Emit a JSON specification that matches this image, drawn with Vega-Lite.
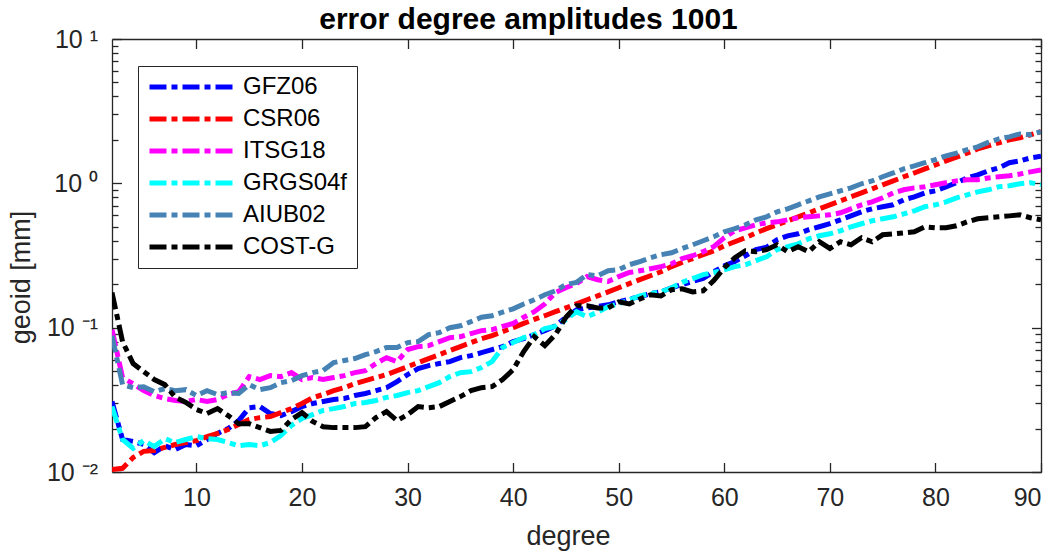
{
"$schema":"https://vega.github.io/schema/vega-lite/v6.json",
"width":929,"height":433,
"autosize":{"type":"none"},
"padding":{"left":112,"top":39,"right":15,"bottom":84},
"background":"white",
"title":{"text":"error degree amplitudes 1001","font":"Liberation Sans","fontSize":30,"fontWeight":"bold","color":"#000000","anchor":"middle","frame":"group","baseline":"bottom","offset":8,"dx":-48,"dy":46},
"config":{"view":{"stroke":null},"font":"Liberation Sans",
"axis":{"grid":false,"domainColor":"#262626","domainWidth":1.3,"tickColor":"#262626","tickWidth":1.3,"labelColor":"#262626","titleColor":"#262626","labelFont":"Liberation Sans","titleFont":"Liberation Sans","labelFontSize":25,"titleFontSize":27,"titleFontWeight":"normal"}},
"data":{"values":[
{"d":2,"GFZ06":0.0308,"CSR06":0.0104,"ITSG18":0.0969,"GRGS04f":0.0284,"AIUB02":0.0880,"COST-G":0.175},
{"d":3,"GFZ06":0.0168,"CSR06":0.0106,"ITSG18":0.0451,"GRGS04f":0.0168,"AIUB02":0.0403,"COST-G":0.0800},
{"d":4,"GFZ06":0.0163,"CSR06":0.0126,"ITSG18":0.0409,"GRGS04f":0.0146,"AIUB02":0.0384,"COST-G":0.0564},
{"d":5,"GFZ06":0.0155,"CSR06":0.0139,"ITSG18":0.0366,"GRGS04f":0.0165,"AIUB02":0.0390,"COST-G":0.0496},
{"d":6,"GFZ06":0.0136,"CSR06":0.0141,"ITSG18":0.0339,"GRGS04f":0.0150,"AIUB02":0.0360,"COST-G":0.0437},
{"d":7,"GFZ06":0.0152,"CSR06":0.0148,"ITSG18":0.0323,"GRGS04f":0.0170,"AIUB02":0.0378,"COST-G":0.0403},
{"d":8,"GFZ06":0.0143,"CSR06":0.0155,"ITSG18":0.0313,"GRGS04f":0.0160,"AIUB02":0.0366,"COST-G":0.0329},
{"d":9,"GFZ06":0.0155,"CSR06":0.0160,"ITSG18":0.0308,"GRGS04f":0.0168,"AIUB02":0.0372,"COST-G":0.0303},
{"d":10,"GFZ06":0.0152,"CSR06":0.0165,"ITSG18":0.0318,"GRGS04f":0.0176,"AIUB02":0.0339,"COST-G":0.0271},
{"d":11,"GFZ06":0.0168,"CSR06":0.0176,"ITSG18":0.0308,"GRGS04f":0.0170,"AIUB02":0.0366,"COST-G":0.0254},
{"d":12,"GFZ06":0.0185,"CSR06":0.0185,"ITSG18":0.0318,"GRGS04f":0.0168,"AIUB02":0.0344,"COST-G":0.0275},
{"d":13,"GFZ06":0.0200,"CSR06":0.0197,"ITSG18":0.0344,"GRGS04f":0.0160,"AIUB02":0.0355,"COST-G":0.0246},
{"d":14,"GFZ06":0.0227,"CSR06":0.0213,"ITSG18":0.0360,"GRGS04f":0.0152,"AIUB02":0.0350,"COST-G":0.0216},
{"d":15,"GFZ06":0.0279,"CSR06":0.0231,"ITSG18":0.0458,"GRGS04f":0.0155,"AIUB02":0.0403,"COST-G":0.0216},
{"d":16,"GFZ06":0.0284,"CSR06":0.0238,"ITSG18":0.0437,"GRGS04f":0.0152,"AIUB02":0.0372,"COST-G":0.0203},
{"d":17,"GFZ06":0.0254,"CSR06":0.0242,"ITSG18":0.0465,"GRGS04f":0.0160,"AIUB02":0.0384,"COST-G":0.0191},
{"d":18,"GFZ06":0.0246,"CSR06":0.0258,"ITSG18":0.0458,"GRGS04f":0.0179,"AIUB02":0.0416,"COST-G":0.0194},
{"d":19,"GFZ06":0.0262,"CSR06":0.0275,"ITSG18":0.0488,"GRGS04f":0.0210,"AIUB02":0.0430,"COST-G":0.0231},
{"d":20,"GFZ06":0.0284,"CSR06":0.0298,"ITSG18":0.0437,"GRGS04f":0.0235,"AIUB02":0.0465,"COST-G":0.0258},
{"d":21,"GFZ06":0.0298,"CSR06":0.0327,"ITSG18":0.0451,"GRGS04f":0.0250,"AIUB02":0.0488,"COST-G":0.0224},
{"d":22,"GFZ06":0.0308,"CSR06":0.0344,"ITSG18":0.0437,"GRGS04f":0.0267,"AIUB02":0.0504,"COST-G":0.0206},
{"d":23,"GFZ06":0.0318,"CSR06":0.0366,"ITSG18":0.0451,"GRGS04f":0.0275,"AIUB02":0.0573,"COST-G":0.0203},
{"d":24,"GFZ06":0.0323,"CSR06":0.0384,"ITSG18":0.0465,"GRGS04f":0.0284,"AIUB02":0.0592,"COST-G":0.0203},
{"d":25,"GFZ06":0.0339,"CSR06":0.0409,"ITSG18":0.0488,"GRGS04f":0.0298,"AIUB02":0.0611,"COST-G":0.0203},
{"d":26,"GFZ06":0.0350,"CSR06":0.0430,"ITSG18":0.0504,"GRGS04f":0.0303,"AIUB02":0.0650,"COST-G":0.0206},
{"d":27,"GFZ06":0.0366,"CSR06":0.0451,"ITSG18":0.0564,"GRGS04f":0.0313,"AIUB02":0.0683,"COST-G":0.0238},
{"d":28,"GFZ06":0.0384,"CSR06":0.0473,"ITSG18":0.0620,"GRGS04f":0.0329,"AIUB02":0.0728,"COST-G":0.0262},
{"d":29,"GFZ06":0.0423,"CSR06":0.0504,"ITSG18":0.0582,"GRGS04f":0.0339,"AIUB02":0.0728,"COST-G":0.0227},
{"d":30,"GFZ06":0.0473,"CSR06":0.0537,"ITSG18":0.0705,"GRGS04f":0.0355,"AIUB02":0.0788,"COST-G":0.0250},
{"d":31,"GFZ06":0.0520,"CSR06":0.0573,"ITSG18":0.0739,"GRGS04f":0.0366,"AIUB02":0.0800,"COST-G":0.0284},
{"d":32,"GFZ06":0.0546,"CSR06":0.0611,"ITSG18":0.0751,"GRGS04f":0.0390,"AIUB02":0.0895,"COST-G":0.0279},
{"d":33,"GFZ06":0.0564,"CSR06":0.0650,"ITSG18":0.0800,"GRGS04f":0.0416,"AIUB02":0.0924,"COST-G":0.0284},
{"d":34,"GFZ06":0.0582,"CSR06":0.0694,"ITSG18":0.0853,"GRGS04f":0.0458,"AIUB02":0.100,"COST-G":0.0308},
{"d":35,"GFZ06":0.0620,"CSR06":0.0739,"ITSG18":0.0866,"GRGS04f":0.0488,"AIUB02":0.103,"COST-G":0.0333},
{"d":36,"GFZ06":0.0640,"CSR06":0.0788,"ITSG18":0.0910,"GRGS04f":0.0496,"AIUB02":0.110,"COST-G":0.0366},
{"d":37,"GFZ06":0.0671,"CSR06":0.0839,"ITSG18":0.0954,"GRGS04f":0.0529,"AIUB02":0.118,"COST-G":0.0384},
{"d":38,"GFZ06":0.0705,"CSR06":0.0881,"ITSG18":0.0969,"GRGS04f":0.0582,"AIUB02":0.121,"COST-G":0.0390},
{"d":39,"GFZ06":0.0739,"CSR06":0.0939,"ITSG18":0.102,"GRGS04f":0.0728,"AIUB02":0.128,"COST-G":0.0437},
{"d":40,"GFZ06":0.0800,"CSR06":0.100,"ITSG18":0.107,"GRGS04f":0.0788,"AIUB02":0.135,"COST-G":0.0512},
{"d":41,"GFZ06":0.0839,"CSR06":0.107,"ITSG18":0.118,"GRGS04f":0.0853,"AIUB02":0.146,"COST-G":0.0683},
{"d":42,"GFZ06":0.0895,"CSR06":0.114,"ITSG18":0.129,"GRGS04f":0.0895,"AIUB02":0.156,"COST-G":0.0866},
{"d":43,"GFZ06":0.0954,"CSR06":0.121,"ITSG18":0.146,"GRGS04f":0.0984,"AIUB02":0.169,"COST-G":0.0751},
{"d":44,"GFZ06":0.103,"CSR06":0.129,"ITSG18":0.175,"GRGS04f":0.102,"AIUB02":0.180,"COST-G":0.0895},
{"d":45,"GFZ06":0.118,"CSR06":0.137,"ITSG18":0.189,"GRGS04f":0.114,"AIUB02":0.199,"COST-G":0.118},
{"d":46,"GFZ06":0.133,"CSR06":0.146,"ITSG18":0.202,"GRGS04f":0.129,"AIUB02":0.206,"COST-G":0.142},
{"d":47,"GFZ06":0.137,"CSR06":0.156,"ITSG18":0.226,"GRGS04f":0.119,"AIUB02":0.233,"COST-G":0.142},
{"d":48,"GFZ06":0.140,"CSR06":0.166,"ITSG18":0.215,"GRGS04f":0.128,"AIUB02":0.229,"COST-G":0.137},
{"d":49,"GFZ06":0.144,"CSR06":0.177,"ITSG18":0.209,"GRGS04f":0.140,"AIUB02":0.248,"COST-G":0.137},
{"d":50,"GFZ06":0.151,"CSR06":0.189,"ITSG18":0.226,"GRGS04f":0.146,"AIUB02":0.252,"COST-G":0.151},
{"d":51,"GFZ06":0.158,"CSR06":0.202,"ITSG18":0.241,"GRGS04f":0.156,"AIUB02":0.273,"COST-G":0.146},
{"d":52,"GFZ06":0.164,"CSR06":0.215,"ITSG18":0.248,"GRGS04f":0.166,"AIUB02":0.287,"COST-G":0.158},
{"d":53,"GFZ06":0.172,"CSR06":0.229,"ITSG18":0.256,"GRGS04f":0.172,"AIUB02":0.305,"COST-G":0.169},
{"d":54,"GFZ06":0.177,"CSR06":0.244,"ITSG18":0.265,"GRGS04f":0.177,"AIUB02":0.320,"COST-G":0.166},
{"d":55,"GFZ06":0.189,"CSR06":0.265,"ITSG18":0.277,"GRGS04f":0.189,"AIUB02":0.330,"COST-G":0.183},
{"d":56,"GFZ06":0.199,"CSR06":0.283,"ITSG18":0.301,"GRGS04f":0.206,"AIUB02":0.354,"COST-G":0.186},
{"d":57,"GFZ06":0.209,"CSR06":0.301,"ITSG18":0.315,"GRGS04f":0.219,"AIUB02":0.375,"COST-G":0.177},
{"d":58,"GFZ06":0.219,"CSR06":0.320,"ITSG18":0.336,"GRGS04f":0.233,"AIUB02":0.400,"COST-G":0.180},
{"d":59,"GFZ06":0.244,"CSR06":0.341,"ITSG18":0.364,"GRGS04f":0.241,"AIUB02":0.426,"COST-G":0.212},
{"d":60,"GFZ06":0.268,"CSR06":0.369,"ITSG18":0.420,"GRGS04f":0.252,"AIUB02":0.462,"COST-G":0.260},
{"d":61,"GFZ06":0.287,"CSR06":0.394,"ITSG18":0.469,"GRGS04f":0.265,"AIUB02":0.485,"COST-G":0.305},
{"d":62,"GFZ06":0.315,"CSR06":0.420,"ITSG18":0.492,"GRGS04f":0.273,"AIUB02":0.516,"COST-G":0.341},
{"d":63,"GFZ06":0.347,"CSR06":0.454,"ITSG18":0.516,"GRGS04f":0.291,"AIUB02":0.559,"COST-G":0.336},
{"d":64,"GFZ06":0.361,"CSR06":0.485,"ITSG18":0.533,"GRGS04f":0.310,"AIUB02":0.586,"COST-G":0.347},
{"d":65,"GFZ06":0.406,"CSR06":0.516,"ITSG18":0.541,"GRGS04f":0.347,"AIUB02":0.635,"COST-G":0.375},
{"d":66,"GFZ06":0.433,"CSR06":0.550,"ITSG18":0.559,"GRGS04f":0.364,"AIUB02":0.666,"COST-G":0.336},
{"d":67,"GFZ06":0.447,"CSR06":0.586,"ITSG18":0.578,"GRGS04f":0.381,"AIUB02":0.710,"COST-G":0.364},
{"d":68,"GFZ06":0.477,"CSR06":0.625,"ITSG18":0.586,"GRGS04f":0.413,"AIUB02":0.756,"COST-G":0.336},
{"d":69,"GFZ06":0.500,"CSR06":0.666,"ITSG18":0.595,"GRGS04f":0.433,"AIUB02":0.806,"COST-G":0.394},
{"d":70,"GFZ06":0.525,"CSR06":0.710,"ITSG18":0.605,"GRGS04f":0.447,"AIUB02":0.845,"COST-G":0.354},
{"d":71,"GFZ06":0.559,"CSR06":0.756,"ITSG18":0.625,"GRGS04f":0.469,"AIUB02":0.888,"COST-G":0.394},
{"d":72,"GFZ06":0.595,"CSR06":0.806,"ITSG18":0.666,"GRGS04f":0.500,"AIUB02":0.930,"COST-G":0.375},
{"d":73,"GFZ06":0.635,"CSR06":0.858,"ITSG18":0.710,"GRGS04f":0.525,"AIUB02":0.993,"COST-G":0.420},
{"d":74,"GFZ06":0.666,"CSR06":0.916,"ITSG18":0.744,"GRGS04f":0.550,"AIUB02":1.04,"COST-G":0.394},
{"d":75,"GFZ06":0.688,"CSR06":0.977,"ITSG18":0.794,"GRGS04f":0.568,"AIUB02":1.11,"COST-G":0.440},
{"d":76,"GFZ06":0.710,"CSR06":1.04,"ITSG18":0.858,"GRGS04f":0.586,"AIUB02":1.18,"COST-G":0.447},
{"d":77,"GFZ06":0.769,"CSR06":1.11,"ITSG18":0.902,"GRGS04f":0.614,"AIUB02":1.26,"COST-G":0.454},
{"d":78,"GFZ06":0.806,"CSR06":1.18,"ITSG18":0.930,"GRGS04f":0.645,"AIUB02":1.32,"COST-G":0.462},
{"d":79,"GFZ06":0.858,"CSR06":1.26,"ITSG18":0.946,"GRGS04f":0.688,"AIUB02":1.39,"COST-G":0.500},
{"d":80,"GFZ06":0.888,"CSR06":1.34,"ITSG18":0.977,"GRGS04f":0.710,"AIUB02":1.46,"COST-G":0.492},
{"d":81,"GFZ06":0.946,"CSR06":1.43,"ITSG18":1.01,"GRGS04f":0.744,"AIUB02":1.55,"COST-G":0.492},
{"d":82,"GFZ06":1.01,"CSR06":1.52,"ITSG18":1.04,"GRGS04f":0.794,"AIUB02":1.62,"COST-G":0.508},
{"d":83,"GFZ06":1.09,"CSR06":1.62,"ITSG18":1.06,"GRGS04f":0.832,"AIUB02":1.71,"COST-G":0.541},
{"d":84,"GFZ06":1.145,"CSR06":1.73,"ITSG18":1.06,"GRGS04f":0.873,"AIUB02":1.79,"COST-G":0.568},
{"d":85,"GFZ06":1.22,"CSR06":1.82,"ITSG18":1.09,"GRGS04f":0.902,"AIUB02":1.92,"COST-G":0.578},
{"d":86,"GFZ06":1.28,"CSR06":1.91,"ITSG18":1.11,"GRGS04f":0.946,"AIUB02":2.03,"COST-G":0.586},
{"d":87,"GFZ06":1.39,"CSR06":2.00,"ITSG18":1.13,"GRGS04f":0.961,"AIUB02":2.10,"COST-G":0.595},
{"d":88,"GFZ06":1.43,"CSR06":2.07,"ITSG18":1.16,"GRGS04f":0.993,"AIUB02":2.20,"COST-G":0.605},
{"d":89,"GFZ06":1.50,"CSR06":2.17,"ITSG18":1.20,"GRGS04f":1.01,"AIUB02":2.17,"COST-G":0.578},
{"d":90,"GFZ06":1.54,"CSR06":2.28,"ITSG18":1.24,"GRGS04f":0.977,"AIUB02":2.28,"COST-G":0.559}
]},
"transform":[{"fold":["GFZ06","CSR06","ITSG18","GRGS04f","AIUB02","COST-G"],"as":["model","value"]}],
"layer":[
{"mark":{"type":"line","strokeWidth":5,"strokeDash":[17,5,6,5],"clip":true},
"encoding":{
"x":{"field":"d","type":"quantitative","scale":{"domain":[2,90],"nice":false,"zero":false},
"axis":{"orient":"bottom","values":[10,20,30,40,50,60,70,80,90],"tickSize":-9.5,"labelPadding":23,"title":"degree","titleX":456,"titleY":72,"titleBaseline":"alphabetic","titleAlign":"center"}},
"y":{"field":"value","type":"quantitative","scale":{"type":"log","domain":[0.01,10],"nice":false},
"axis":{"orient":"left","values":[0.01,0.02,0.03,0.04,0.05,0.06,0.07,0.08,0.09,0.1,0.2,0.3,0.4,0.5,0.6,0.7,0.8,0.9,1,2,3,4,5,6,7,8,9,10],
"tickSize":{"condition":{"test":"datum.value == 0.01 || datum.value == 0.1 || datum.value == 1 || datum.value == 10","value":-9.5},"value":-6},
"labelExpr":"datum.value == 10 ? '10 ¹' : datum.value == 1 ? '10 ⁰' : datum.value == 0.1 ? '10 ⁻¹' : datum.value == 0.01 ? '10 ⁻²' : ''",
"labelPadding":24,"labelBaseline":"middle","title":"geoid [mm]","titleX":-83,"titleY":238,"titleAngle":-90,"titleBaseline":"alphabetic","titleAlign":"center"}},
"color":{"field":"model","type":"nominal","scale":{"domain":["GFZ06","CSR06","ITSG18","GRGS04f","AIUB02","COST-G"],"range":["#0000ff","#ff0000","#ff00ff","#00ffff","#4682b4","#000000"]},
"legend":{"orient":"none","legendX":26,"legendY":27,"title":null,"direction":"vertical","padding":9,"strokeColor":"#262626","fillColor":"#ffffff","symbolType":"stroke","symbolSize":6889,"symbolStrokeWidth":5,"symbolDash":[17,5,6,5],"clipHeight":24,"rowPadding":8,"labelFontSize":24,"labelFont":"Liberation Sans","labelColor":"#000000","labelOffset":8}}
}},
{"mark":{"type":"point","opacity":0},
"encoding":{
"x":{"field":"d","type":"quantitative","axis":{"orient":"top","values":[10,20,30,40,50,60,70,80,90],"tickSize":-9.5,"labels":false,"title":null}},
"y":{"field":"value","type":"quantitative","axis":{"orient":"right","values":[0.01,0.02,0.03,0.04,0.05,0.06,0.07,0.08,0.09,0.1,0.2,0.3,0.4,0.5,0.6,0.7,0.8,0.9,1,2,3,4,5,6,7,8,9,10],
"tickSize":{"condition":{"test":"datum.value == 0.01 || datum.value == 0.1 || datum.value == 1 || datum.value == 10","value":-9.5},"value":-6},"labels":false,"title":null}}
}}
],
"resolve":{"axis":{"x":"independent","y":"independent"}}
}
